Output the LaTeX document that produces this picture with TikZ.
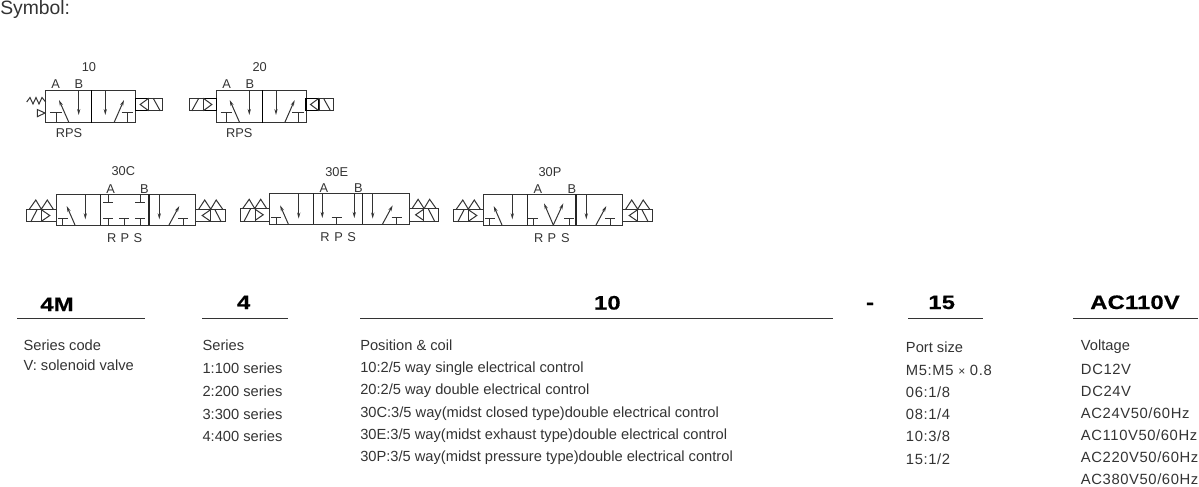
\documentclass[tikz,border=0pt]{standalone}
\usepackage{fontspec}
\usepackage{xcolor}
\usetikzlibrary{arrows.meta}
\setmainfont{Liberation Sans}
\newfontfamily\headfont[FakeStretch=1.22,FakeBold=0.6,LetterSpace=1]{Liberation Sans}
\newfontfamily\widefont[LetterSpace=4]{Liberation Sans}
\definecolor{ink}{HTML}{333333}
\definecolor{rulegray}{HTML}{333333}

% Ports and flow paths, all in reference pixels
\newcommand{\porttee}[3]{\draw[thinline] (#1-5,#2) -- (#1+5,#2) (#1,#2) -- (#1,#3);}
\newcommand{\flow}[4]{\draw[thinline, flowtip] (#1,#2) -- (#3,#4);}
% Solenoid coil: origin on the body edge, #3 = 1 to the right, -1 to the left
\newcommand{\coilbox}[3]{
  \begin{scope}[shift={(#1,#2)}, xscale=#3]
    \draw[midline] (0,-6.3) rectangle (13,6.3);
    \draw[thinline] (13,-6.3) rectangle (27,6.3);
    \draw[thinline] (13,-6.3) -- (4.5,0) -- (13,6.3);
    \draw[thinline] (17.5,-6.3) -- (24.5,6.3);
  \end{scope}
}
% Coil with the two manual override peaks above it
\newcommand{\coilpeak}[3]{
  \begin{scope}[shift={(#1,#2)}, xscale=#3]
    \draw[thinline] (0,-6.3) rectangle (14.5,6.3);
    \draw[thinline] (14.5,-6.3) rectangle (29.5,6.3);
    \draw[thinline] (14.5,-5.5) -- (6.5,0) -- (14.5,5.5);
    \draw[thinline] (19,-6.3) -- (25.5,6.3);
    \draw[thinline] (3,-6.3) -- (9,-15.5) -- (15,-6.3) -- (20.5,-15.5) -- (27,-6.3);
  \end{scope}
}
% Three position body with its two outer cells: #1 x of left edge, #2 y of top edge
\newcommand{\threepos}[2]{
  \begin{scope}[shift={(#1,#2)}]
    \draw[thinline] (0,0) rectangle (139.4,31);
    \draw[divline] (44,0) -- (44,31) (92.7,0) -- (92.7,31);
    \porttee{6.5}{24.3}{31}
    \flow{18.7}{31}{10.4}{12}
    \flow{29}{0}{29}{25.3}
    \flow{103}{0}{103}{25.3}
    \flow{112.7}{31}{123}{12}
    \porttee{127}{24.3}{31}
    \coilpeak{0}{21.5}{-1}
    \coilpeak{139.4}{21.5}{1}
  \end{scope}
}

\begin{document}
\begin{tikzpicture}[
    x=0.75pt, y=-0.75pt,
    every node/.style={inner sep=0pt, text=ink},
    thinline/.style={line width=0.75pt, draw=rulegray},
    midline/.style={line width=1pt, draw=black},
    divline/.style={line width=0.95pt, draw=black!85},
    flowtip/.style={-{Stealth[length=4.5pt, width=2.4pt]}},
    tag/.style={font=\fontsize{9.6}{11}\selectfont, anchor=base},
    info/.style={font=\fontsize{11}{13}\selectfont, anchor=base west},
    wideinfo/.style={font=\fontsize{11.1}{13}\selectfont\widefont, anchor=base west},
    head/.style={font=\fontsize{14.6}{17}\selectfont\headfont\bfseries, anchor=base, text=black},
    headrule/.style={line width=0.8pt, draw=rulegray}
]
\useasboundingbox (0,0) rectangle (1199,486);

\node[font=\fontsize{14.5}{17}\selectfont, anchor=base west] (symbol) at (0,14) {Symbol:};

% Valve 10
\draw[thinline] (45.7,90) rectangle (135.7,122.7);
\draw[midline] (91.7,90) -- (91.7,122.7);
\draw[thinline] (50,112.3) -- (61.7,112.3) (56,112.3) -- (56,122.7);
\flow{69}{122.7}{59}{100}
\flow{78.7}{90}{78.7}{115}
\flow{105.3}{90}{105.3}{115}
\flow{114}{122.7}{124}{100}
\draw[thinline] (121.7,112.3) -- (133,112.3) (127.3,112.3) -- (127.3,122.7);
\coilbox{135.7}{104.5}{1}
\draw[thinline] (26.7,102) -- (30,97.5) -- (33,104) -- (36,97.5) -- (39,104) -- (42,97.5) -- (45.7,102);
\draw[thinline] (37.3,109.5) -- (45,113) -- (37.3,116.7) -- cycle;
\node[tag] (t10) at (89,71) {10};
\node[tag] (a10) at (55.7,88) {A};
\node[tag] (b10) at (79,88) {B};
\node[tag] (rps10) at (69,137) {RPS};

% Valve 20
\draw[thinline] (216.3,90) rectangle (306,122.7);
\draw[midline] (262.3,90) -- (262.3,122.7);
\draw[thinline] (220.7,112.3) -- (232.3,112.3) (226.5,112.3) -- (226.5,122.7);
\flow{239.7}{122.7}{229.7}{100}
\flow{249.3}{90}{249.3}{115}
\flow{276}{90}{276}{115}
\flow{284.7}{122.7}{294.7}{100}
\draw[thinline] (292.3,112.3) -- (303.7,112.3) (298,112.3) -- (298,122.7);
\coilbox{216.3}{104.5}{-1}
\coilbox{306}{104.5}{1}
\node[tag] (t20) at (259.7,71) {20};
\node[tag] (a20) at (226.7,88) {A};
\node[tag] (b20) at (250,88) {B};
\node[tag] (rps20) at (239.3,137) {RPS};

% Valve 30C
\threepos{56.3}{194}
\porttee{108.3}{218.3}{225}
\porttee{124}{218.3}{225}
\porttee{140}{218.3}{225}
\porttee{108.3}{202.7}{194}
\porttee{140}{202.7}{194}
\node[tag] (t30c) at (123.3,175.7) {30C};
\node[tag] (a30c) at (110.7,193.5) {A};
\node[tag] (b30c) at (144.3,193.5) {B};
\node[tag] (r30c) at (111.7,242) {R};
\node[tag] (p30c) at (125,242) {P};
\node[tag] (s30c) at (138,242) {S};

% Valve 30E
\threepos{269.7}{193.3}
\flow{322.3}{193.3}{322.3}{218}
\flow{354.3}{193.3}{354.3}{218}
\porttee{336.7}{217.5}{224.3}
\node[tag] (t30e) at (336.7,176) {30E};
\node[tag] (a30e) at (324,192.5) {A};
\node[tag] (b30e) at (358.3,192.5) {B};
\node[tag] (r30e) at (325,241) {R};
\node[tag] (p30e) at (338.7,241) {P};
\node[tag] (s30e) at (351.7,241) {S};

% Valve 30P
\threepos{483.3}{194}
\porttee{533.3}{218.3}{225}
\porttee{569}{218.3}{225}
\flow{553.3}{225}{544}{203.3}
\flow{553.3}{225}{563.3}{203.3}
\node[tag] (t30p) at (550,176) {30P};
\node[tag] (a30p) at (538,193.5) {A};
\node[tag] (b30p) at (572,193.5) {B};
\node[tag] (r30p) at (538.7,242) {R};
\node[tag] (p30p) at (552,242) {P};
\node[tag] (s30p) at (565.3,242) {S};

% Code heads
\node[head] (code) at (57,311) {4M};
\draw[headrule] (17.3,318.6) -- (145,318.6);
\node[head] (series) at (243.7,309) {4};
\draw[headrule] (202.3,318.3) -- (288.3,318.3);
\node[head] (position) at (607.3,309.5) {10};
\draw[headrule] (360,318.3) -- (833,318.3);
\node[head] (dash) at (870,309) {-};
\node[head] (port) at (941.7,309) {15};
\draw[headrule] (908.3,318.3) -- (983.3,318.3);
\node[head] (volt) at (1135,309) {AC110V};
\draw[headrule] (1073.3,318.3) -- (1197.7,318.3);

% Series code
\node[info] (c1) at (23.3,350) {Series code};
\node[info] (c2) at (23.3,370.5) {V: solenoid valve};

% Series
\node[info] (s1) at (202.3,350) {Series};
\node[info] (s2) at (202.3,373.3) {1:100 series};
\node[info] (s3) at (202.3,396) {2:200 series};
\node[info] (s4) at (202.3,419) {3:300 series};
\node[info] (s5) at (202.3,441.7) {4:400 series};

% Position and coil
\node[info] (m1) at (360,350) {Position \& coil};
\node[info] (m2) at (360,372.3) {10:2/5 way single electrical control};
\node[info] (m3) at (360,394.3) {20:2/5 way double electrical control};
\node[info] (m4) at (360,417.3) {30C:3/5 way(midst closed type)double electrical control};
\node[info] (m5) at (360,439.3) {30E:3/5 way(midst exhaust type)double electrical control};
\node[info] (m6) at (360,461.7) {30P:3/5 way(midst pressure type)double electrical control};

% Port size
\node[info] (p1) at (905.7,352.7) {Port size};
\node[wideinfo] (p2) at (905.7,375) {M5:M5 {\small×} 0.8};
\node[wideinfo] (p3) at (905.7,397.3) {06:1/8};
\node[wideinfo] (p4) at (905.7,419.3) {08:1/4};
\node[wideinfo] (p5) at (905.7,441.7) {10:3/8};
\node[wideinfo] (p6) at (905.7,464) {15:1/2};

% Voltage
\node[info] (v1) at (1080.7,350) {Voltage};
\node[wideinfo] (v2) at (1080.7,374.3) {DC12V};
\node[wideinfo] (v3) at (1080.7,396) {DC24V};
\node[wideinfo] (v4) at (1080.7,418.3) {AC24V50/60Hz};
\node[wideinfo] (v5) at (1080.7,440.7) {AC110V50/60Hz};
\node[wideinfo] (v6) at (1080.7,462.7) {AC220V50/60Hz};
\node[wideinfo] (v7) at (1080.7,484) {AC380V50/60Hz};

\end{tikzpicture}
\end{document}
